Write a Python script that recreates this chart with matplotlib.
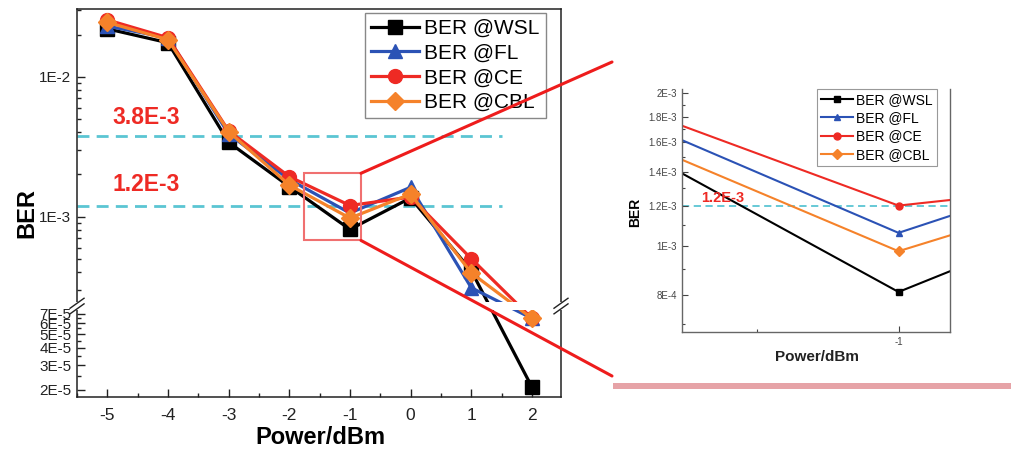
import numpy as np
import matplotlib
matplotlib.use("Agg")
import matplotlib.pyplot as plt
from matplotlib.ticker import FixedLocator, FixedFormatter, NullFormatter, MultipleLocator
from matplotlib.patches import Rectangle, ConnectionPatch

plt.rcParams['font.family'] = ['Liberation Sans', 'DejaVu Sans']
plt.rcParams['axes.unicode_minus'] = False

# data
power = [-5, -4, -3, -2, -1, 0, 1, 2]
ber_wsl = [2.2e-2, 1.75e-2, 3.4e-3, 1.64e-3, 8.1e-4, 1.36e-3, 4.1e-4, 2.1e-5]
ber_fl = [2.3e-2, 1.9e-2, 3.9e-3, 1.84e-3, 1.06e-3, 1.62e-3, 3.1e-4, 6.5e-5]
ber_ce = [2.55e-2, 1.9e-2, 4.1e-3, 1.93e-3, 1.2e-3, 1.38e-3, 5.0e-4, 6.5e-5]
ber_cbl = [2.45e-2, 1.84e-2, 4.05e-3, 1.68e-3, 9.75e-4, 1.45e-3, 3.96e-4, 6.5e-5]

labels = ['BER @WSL', 'BER @FL', 'BER @CE', 'BER @CBL']
colors = ['#000000', '#2B52B5', '#EE2A24', '#F5822A']
markers = ['s', '^', 'o', 'D']
series = [ber_wsl, ber_fl, ber_ce, ber_cbl]

thresholds = [3.8e-3, 1.2e-3]
threshold_text = ['3.8E-3', '1.2E-3']

main_yticks = [2e-5, 3e-5, 4e-5, 5e-5, 6e-5, 7e-5, 1e-3, 1e-2]
main_yticklabels = ['2E-5', '3E-5', '4E-5', '5E-5', '6E-5', '7E-5', '1E-3', '1E-2']
main_yminor = [2.5e-5, 3.5e-5, 4.5e-5, 5.5e-5, 6.5e-5,
               3e-4, 4e-4, 5e-4, 6e-4, 7e-4, 8e-4, 9e-4,
               2e-3, 3e-3, 4e-3, 5e-3, 6e-3, 7e-3, 8e-3, 9e-3, 2e-2, 3e-2]

inset_yticks = [8e-4, 1e-3, 1.2e-3, 1.4e-3, 1.6e-3, 1.8e-3, 2e-3]
inset_yticklabels = ['8E-4', '1E-3', '1.2E-3', '1.4E-3', '1.6E-3', '1.8E-3', '2E-3']
inset_yminor = [7e-4, 9e-4, 1.1e-3, 1.3e-3, 1.5e-3, 1.7e-3, 1.9e-3]

# broken log axis: 7.6E-5 .. 2.4E-4 squeezed into a small gap
LO_TOP, HI_BOT, GAP = 7.6e-5, 2.4e-4, 0.04
Z0 = np.log10(LO_TOP)
D = np.log10(HI_BOT) - Z0


def fwd(y):
    ly = np.log10(np.clip(np.asarray(y, float), 1e-12, None))
    return np.where(ly <= Z0, ly,
                    np.where(ly >= Z0 + D, ly - D + GAP, Z0 + (ly - Z0) / D * GAP))


def inv(z):
    z = np.asarray(z, float)
    with np.errstate(over='ignore'):
        return np.where(z <= Z0, 10 ** z,
                        np.where(z >= Z0 + GAP, 10 ** (z + D - GAP),
                                 10 ** (Z0 + (z - Z0) / GAP * D)))


YMIN, YMAX = 1.78e-5, 3.05e-2
XMIN, XMAX = -5.5, 2.48

fig = plt.figure(figsize=(10.11, 4.53), dpi=100)
ax = fig.add_axes([0.0762, 0.1236, 0.4787, 0.8565])
ax.set_yscale('function', functions=(fwd, inv))

for ys, lab, c, m in zip(series, labels, colors, markers):
    ms = 9 if m == 'D' else 10
    ax.plot(power, ys, color=c, marker=m, ms=ms, lw=2.3, label=lab, zorder=2)

ax.hlines(thresholds, XMIN, 1.5, colors='#5BC5D3', linestyles=(0, (4.3, 2.6)), lw=2, zorder=1.5)
for v, t in zip([5.1e-3, 1.69e-3], threshold_text):
    ax.text(-4.36, v, t, color='#EE2A24', fontsize=16.5, fontweight='bold', ha='center', va='center')

ax.set_xlim(XMIN, XMAX)
ax.set_ylim(YMIN, YMAX)
ax.xaxis.set_major_locator(MultipleLocator(1))
ax.xaxis.set_minor_locator(MultipleLocator(0.5))
ax.yaxis.set_major_locator(FixedLocator(main_yticks))
ax.yaxis.set_major_formatter(FixedFormatter(main_yticklabels))
ax.yaxis.set_minor_locator(FixedLocator(main_yminor))
ax.yaxis.set_minor_formatter(NullFormatter())
ax.tick_params(which='both', direction='in', top=False, right=False, width=1, colors='#222222')
ax.tick_params(which='major', length=6)
ax.tick_params(which='minor', length=3)
ax.tick_params(axis='x', labelsize=12.5, pad=8)
ax.tick_params(axis='y', labelsize=11, pad=4)
for s in ax.spines.values():
    s.set_linewidth(1.1)
    s.set_color('#222222')

# axis break
zlo, zhi = fwd(YMIN), fwd(YMAX)
fa = float((Z0 - zlo) / (zhi - zlo))
fb = float((Z0 + GAP - zlo) / (zhi - zlo))
ax.add_patch(Rectangle((-0.006, fa - 0.003), 1.014, fb - fa + 0.006, transform=ax.transAxes,
                       facecolor='white', edgecolor='none', zorder=3, clip_on=False))
for xc in (0, 1):
    for yc in (fa, fb):
        ax.plot([xc - 7 / 484, xc + 7 / 484], [yc - 5 / 388, yc + 5 / 388], transform=ax.transAxes,
                color='#222222', lw=1, clip_on=False, zorder=4)

leg = ax.legend(loc='upper right', bbox_to_anchor=(0.969, 0.99), borderaxespad=0, fontsize=15,
                labelspacing=0.27, handlelength=2.3, handletextpad=0.25, borderpad=0.3,
                fancybox=False, edgecolor='#888888', framealpha=1)
leg.get_frame().set_linewidth(1)

fig.text(27 / 1011, 1 - 213 / 453, 'BER', rotation=90, fontsize=17, fontweight='bold', ha='center', va='center')
fig.text(320 / 1011, 1 - 437 / 453, 'Power/dBm', fontsize=17, fontweight='bold', ha='center', va='center')

# inset (zoom around -1 dBm)
IX0, IX1 = -1.765, -0.818
IY0, IY1 = 6.75e-4, 2.04e-3
axi = fig.add_axes([0.6746, 0.2671, 0.2651, 0.5364])
axi.set_yscale('log')
for ys, lab, c, m in zip(series, labels, colors, markers):
    axi.plot(power, ys, color=c, marker=m, ms=5, lw=1.5, label=lab)
axi.axhline(1.2e-3, color='#5BC5D3', ls=(0, (4, 2.5)), lw=1.3, zorder=1.5)
axi.text(-1.62, 1.245e-3, '1.2E-3', color='#EE2A24', fontsize=10.5, fontweight='bold', ha='center', va='center')
axi.set_xlim(IX0, IX1)
axi.set_ylim(IY0, IY1)
axi.xaxis.set_major_locator(FixedLocator([-1]))
axi.xaxis.set_minor_locator(FixedLocator([-1.5]))
axi.yaxis.set_major_locator(FixedLocator(inset_yticks))
axi.yaxis.set_major_formatter(FixedFormatter(inset_yticklabels))
axi.yaxis.set_minor_locator(FixedLocator(inset_yminor))
axi.yaxis.set_minor_formatter(NullFormatter())
axi.tick_params(which='both', direction='in', top=False, right=False, labelsize=7, colors='#444444', width=0.8)
axi.tick_params(which='major', length=4)
axi.tick_params(which='minor', length=2)
axi.spines['top'].set_visible(False)
for k in ('left', 'bottom', 'right'):
    axi.spines[k].set_color('#666666')
    axi.spines[k].set_linewidth(1)
li = axi.legend(loc='upper right', bbox_to_anchor=(0.951, 1.0), borderaxespad=0, fontsize=10,
                labelspacing=0.3, handlelength=2.3, handletextpad=0.2, borderpad=0.3,
                fancybox=False, edgecolor='#999999', framealpha=1)
li.get_frame().set_linewidth(0.8)
fig.text(635 / 1011, 1 - 212 / 453, 'BER', rotation=90, fontsize=10, fontweight='bold', ha='center', va='center')
fig.text(817 / 1011, 1 - 357 / 453, 'Power/dBm', fontsize=11, fontweight='bold', ha='center', va='center', color='#222222')

# zoom box and connectors
ax.add_patch(Rectangle((IX0, IY0), IX1 - IX0, IY1 - IY0, fill=False, edgecolor='#F07070', lw=1.5, zorder=5))
for ya, yb in ((IY1, 1 - 62 / 453), (IY0, 1 - 376 / 453)):
    con = ConnectionPatch(xyA=(IX1, ya), coordsA='data', axesA=ax,
                          xyB=(612 / 1011, yb), coordsB='figure fraction',
                          color='#EE1C1C', lw=2.2)
    fig.add_artist(con)

fig.add_artist(Rectangle((613 / 1011, 1 - 389 / 453), 398 / 1011, 6 / 453, transform=fig.transFigure,
                         facecolor='#E6A3A7', edgecolor='none'))

fig.savefig('out.png', dpi=100)
